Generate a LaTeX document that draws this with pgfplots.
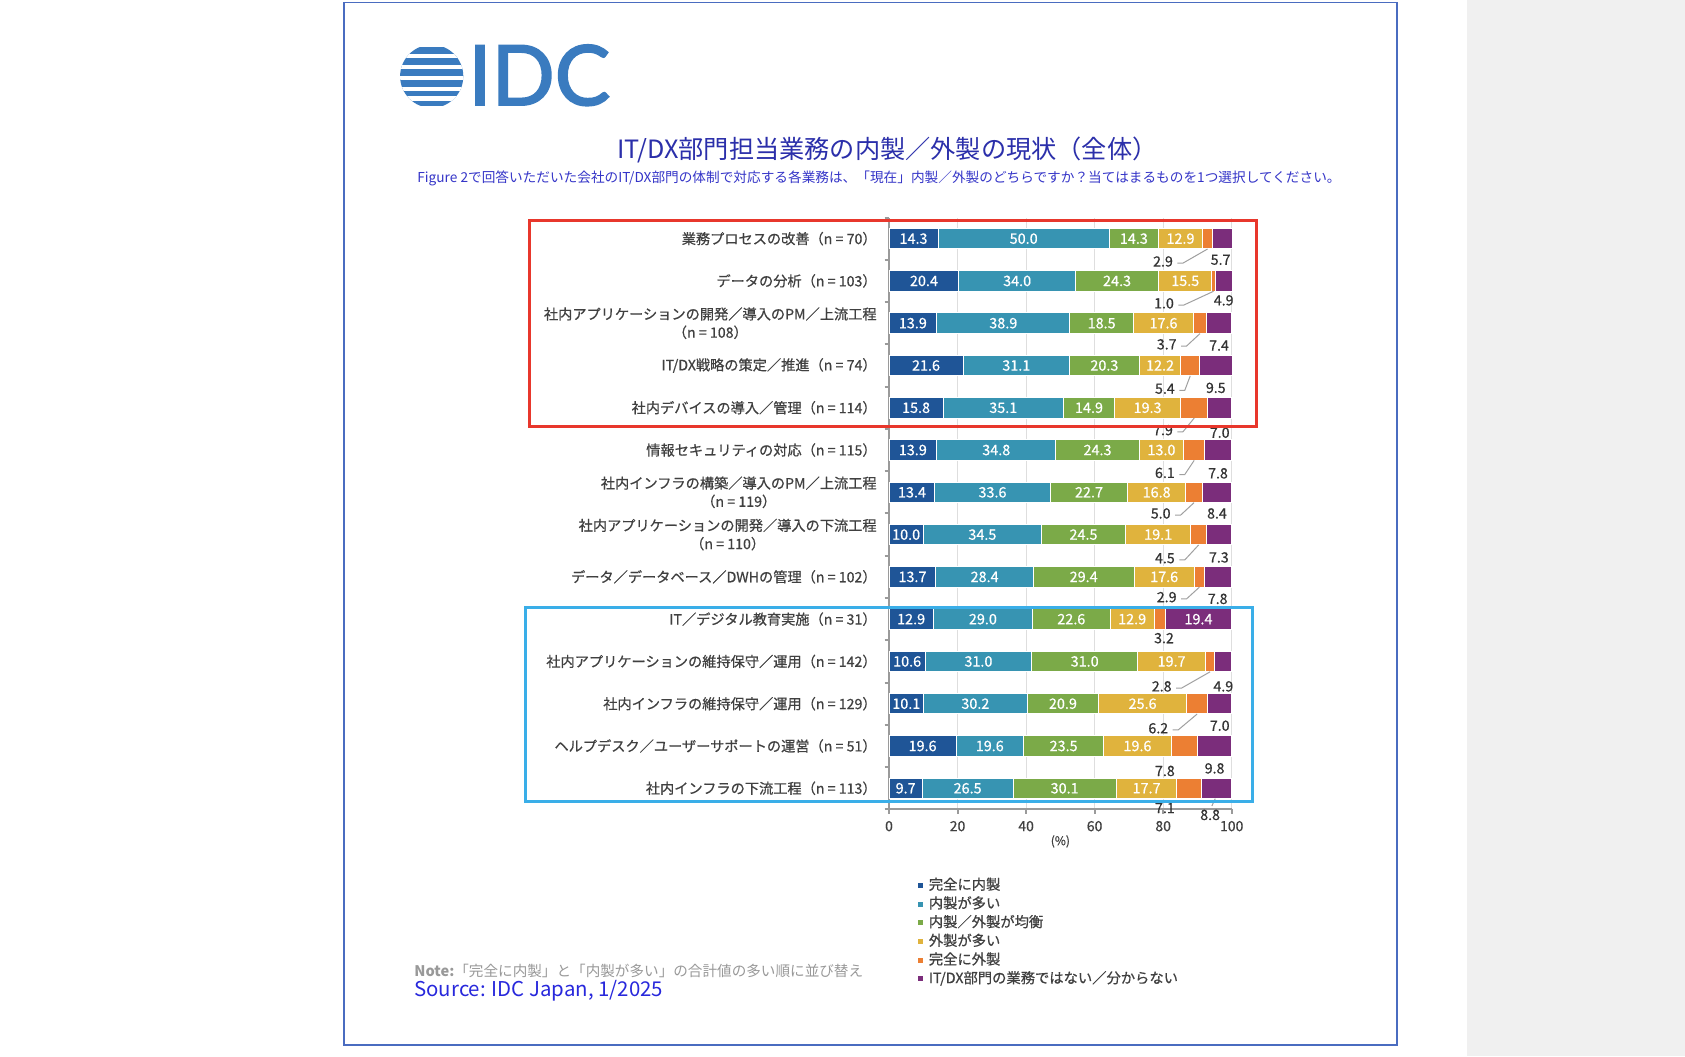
\documentclass[border=0pt]{standalone}
\usepackage{fontspec}
\setmainfont{Noto Sans CJK JP}
\newfontfamily\medfont{Noto Sans CJK JP}[FakeBold=0.6]
\newfontfamily\idcfont{Lato}[FakeBold=2.2]
\usepackage{pgfplots}
\usepackage{pgfplotstable}
\pgfplotsset{compat=1.18}

\definecolor{c1}{HTML}{1F5597}
\definecolor{c2}{HTML}{3794B2}
\definecolor{c3}{HTML}{7BAA48}
\definecolor{c4}{HTML}{E0B33D}
\definecolor{c5}{HTML}{EC7F33}
\definecolor{c6}{HTML}{7B2D7B}
\definecolor{labelgray}{HTML}{404040}
\definecolor{numgray}{HTML}{333333}
\definecolor{axgray}{HTML}{9A9A9A}
\definecolor{gridgray}{HTML}{DEDEDE}
\definecolor{leadgray}{HTML}{A0A0A0}
\definecolor{sidegray}{HTML}{F0F0F0}
\definecolor{framecol}{HTML}{4A6CC0}
\definecolor{idcblue}{HTML}{3A7BBF}
\definecolor{titleblue}{HTML}{2B2FAA}
\definecolor{subblue}{HTML}{3535C8}
\definecolor{srcblue}{HTML}{2828DC}
\definecolor{notegray}{HTML}{999999}
\definecolor{redbox}{HTML}{E8372C}
\definecolor{bluebox}{HTML}{3AAEE8}

% y: position (13 = top row); a..f: shares; ex: x of small orange label; eo/fo: downward offsets of small labels
% fdx: x shift of purple label; ld: leader to orange; fin: purple value inside bar; fl: leader to purple
\pgfplotstableread{
y  a    b    c    d    e   f    ex    eo   fo   fdx  ld fin fl
13 14.3 50.0 14.3 12.9 2.9 5.7  79.95 0.54 0.50 -0.5 1 0 0
12 20.4 34.0 24.3 15.5 1.0 4.9  80.24 0.53 0.46 0    1 0 0
11 13.9 38.9 18.5 17.6 3.7 7.4  81.03 0.50 0.53 0    1 0 0
10 21.6 31.1 20.3 12.2 5.4 9.5  80.50 0.55 0.53 0    1 0 0
9  15.8 35.1 14.9 19.3 7.9 7.0  79.95 0.53 0.59 0    1 0 0
8  13.9 34.8 24.3 13.0 6.1 7.8  80.50 0.54 0.55 0    1 0 0
7  13.4 33.6 22.7 16.8 5.0 8.4  79.28 0.50 0.50 0    1 0 0
6  10.0 34.5 24.5 19.1 4.5 7.3  80.50 0.56 0.54 0    1 0 0
5  13.7 28.4 29.4 17.6 2.9 7.8  81.03 0.48 0.52 0    1 0 0
4  12.9 29.0 22.6 12.9 3.2 19.4 80.24 0.45 0.50 0    0 1 0
3  10.6 31.0 31.0 19.7 2.8 4.9  79.57 0.59 0.59 0    1 0 0
2  10.1 30.2 20.9 25.6 6.2 7.0  78.58 0.58 0.52 0    1 0 0
1  19.6 19.6 23.5 19.6 7.8 9.8  80.50 0.59 0.53 0    0 0 0
0  9.7  26.5 30.1 17.7 7.1 8.8  80.50 0.47 0.63 -1.8 0 0 1
}\data

\tikzset{
  inlbl/.style={anchor=center, inner sep=0pt, text=white, font=\medfont\fontsize{7.2}{8}\selectfont},
  smlbl/.style={anchor=center, inner sep=0pt, text=numgray, font=\medfont\fontsize{7.1}{8}\selectfont},
  catlbl/.style={anchor=east, inner sep=0pt, xshift=-6pt, align=center, text=labelgray, font=\medfont\fontsize{7.1}{9.15}\selectfont},
  leader/.style={draw=leadgray, line width=0.5pt},
}

\pgfplotsset{
  samebox/.style={
    at={(444.5pt,-404.7pt)}, anchor=south west,
    scale only axis, width=171.35pt, height=295.95pt,
    xmin=0, xmax=100, ymin=-0.5, ymax=13.5, clip=false,
  },
}

\begin{document}
\begin{tikzpicture}
\begin{scope}[x=0.5pt,y=-0.5pt]
\useasboundingbox (0,0) rectangle (1685,1056);
\fill[white] (0,0) rectangle (1685,1056);
\fill[sidegray] (1467,0) rectangle (1685,1056);
\draw[framecol, line width=0.75pt] (344,2.5) rectangle (1397,1045);
% logo
\begin{scope}
\clip (431.7,76.3) circle (15.8pt);
\clip (390,47) rectangle (470,105.5);
\fill[idcblue] (390,40) rectangle (470,110);
\foreach \yy in {55.8,67,78,88.6,98.4}
  \fill[white] (390,\yy-2.1) rectangle (470,\yy+2.1);
\end{scope}
\node[anchor=base west, inner sep=0pt, text=idcblue, font=\idcfont\fontsize{41.5}{41.5}\selectfont] at (468,105) {IDC};
% titles
\node[text=titleblue, inner sep=0pt, font=\fontsize{12.6}{14}\selectfont] at (887.5,150) {IT/DX部門担当業務の内製／外製の現状（全体）};
\node[text=subblue, inner sep=0pt, font=\fontsize{6.83}{8}\selectfont] at (879,178.5) {Figure 2で回答いただいた会社のIT/DX部門の体制で対応する各業務は、「現在」内製／外製のどちらですか？当てはまるものを1つ選択してください。};
% note and source
\node[anchor=west, inner sep=0pt, text=notegray, font=\fontsize{7.3}{8}\selectfont] at (414,971) {\textbf{Note:}「完全に内製」と「内製が多い」の合計値の多い順に並び替え};
\node[anchor=west, inner sep=0pt, text=srcblue, font=\fontsize{10.2}{11}\selectfont] at (414,991) {Source: IDC Japan, 1/2025};
\end{scope}

\begin{axis}[
  samebox,
  xbar stacked, bar width=10.25pt,
  axis x line*=bottom, axis y line*=left,
  axis line style={draw=axgray, line width=1pt, -},
  xtick={0,20,...,100},
  ytick={-0.5,0.5,...,13.5}, yticklabels={},
  xmajorgrids, grid style={draw=gridgray, line width=0.5pt},
  tick align=outside, major tick length=2.25pt,
  tick style={draw=axgray, line width=1pt},
  /pgf/number format/assume math mode=true,
  xticklabel style={font=\medfont\fontsize{7}{8}\selectfont, text=labelgray},
  xlabel={(\%)},
  xlabel style={font=\medfont\fontsize{6}{7}\selectfont, text=labelgray, at={(rel axis cs:0.5,0)}, anchor=center, yshift=-16pt},
  legend cell align=left,
  legend image code/.code={\path[#1, draw=none] (0pt,-1.25pt) rectangle (2.5pt,1.25pt);},
  legend style={draw=none, fill=none, at={(0.083,-0.116)}, anchor=north west,
    font=\medfont\fontsize{7.15}{8}\selectfont, text=labelgray, inner sep=0pt,
    nodes={inner sep=0pt, text height=5.6pt, text depth=1.4pt},
    column sep=3pt, row sep=2.35pt},
]
\addplot[fill=c1, draw=white, line width=0.5pt] table[x=a, y=y]{\data};
\addplot[fill=c2, draw=white, line width=0.5pt] table[x=b, y=y]{\data};
\addplot[fill=c3, draw=white, line width=0.5pt] table[x=c, y=y]{\data};
\addplot[fill=c4, draw=white, line width=0.5pt] table[x=d, y=y]{\data};
\addplot[fill=c5, draw=white, line width=0.5pt] table[x=e, y=y]{\data};
\addplot[fill=c6, draw=white, line width=0.5pt] table[x=f, y=y]{\data};
\legend{完全に内製, 内製が多い, 内製／外製が均衡, 外製が多い, 完全に外製, IT/DX部門の業務ではない／分からない}
\end{axis}

\begin{axis}[samebox, hide axis]
% category labels
\node[catlbl] at (axis cs:0,13) {業務プロセスの改善（n = 70）};
\node[catlbl] at (axis cs:0,12) {データの分析（n = 103）};
\node[catlbl] at (axis cs:0,11) {社内アプリケーションの開発／導入のPM／上流工程\\（n = 108）};
\node[catlbl] at (axis cs:0,10) {IT/DX戦略の策定／推進（n = 74）};
\node[catlbl] at (axis cs:0,9) {社内デバイスの導入／管理（n = 114）};
\node[catlbl] at (axis cs:0,8) {情報セキュリティの対応（n = 115）};
\node[catlbl] at (axis cs:0,7) {社内インフラの構築／導入のPM／上流工程\\（n = 119）};
\node[catlbl] at (axis cs:0,6) {社内アプリケーションの開発／導入の下流工程\\（n = 110）};
\node[catlbl] at (axis cs:0,5) {データ／データベース／DWHの管理（n = 102）};
\node[catlbl] at (axis cs:0,4) {IT／デジタル教育実施（n = 31）};
\node[catlbl] at (axis cs:0,3) {社内アプリケーションの維持保守／運用（n = 142）};
\node[catlbl] at (axis cs:0,2) {社内インフラの維持保守／運用（n = 129）};
\node[catlbl] at (axis cs:0,1) {ヘルプデスク／ユーザーサポートの運営（n = 51）};
\node[catlbl] at (axis cs:0,0) {社内インフラの下流工程（n = 113）};

% value labels
\pgfplotsinvokeforeach{0,...,13}{%
  \pgfplotstablegetelem{#1}{y}\of\data \let\yy\pgfplotsretval
  \pgfplotstablegetelem{#1}{a}\of\data \let\va\pgfplotsretval
  \pgfplotstablegetelem{#1}{b}\of\data \let\vb\pgfplotsretval
  \pgfplotstablegetelem{#1}{c}\of\data \let\vc\pgfplotsretval
  \pgfplotstablegetelem{#1}{d}\of\data \let\vd\pgfplotsretval
  \pgfplotstablegetelem{#1}{e}\of\data \let\ve\pgfplotsretval
  \pgfplotstablegetelem{#1}{f}\of\data \let\vf\pgfplotsretval
  \pgfplotstablegetelem{#1}{ex}\of\data \let\vex\pgfplotsretval
  \pgfplotstablegetelem{#1}{eo}\of\data \let\veo\pgfplotsretval
  \pgfplotstablegetelem{#1}{fo}\of\data \let\vfo\pgfplotsretval
  \pgfplotstablegetelem{#1}{fdx}\of\data \let\vfdx\pgfplotsretval
  \pgfplotstablegetelem{#1}{ld}\of\data \let\vld\pgfplotsretval
  \pgfplotstablegetelem{#1}{fin}\of\data \let\vfin\pgfplotsretval
  \pgfplotstablegetelem{#1}{fl}\of\data \let\vfl\pgfplotsretval
  \pgfmathsetmacro\xa{\va/2}
  \pgfmathsetmacro\xb{\va+\vb/2}
  \pgfmathsetmacro\xc{\va+\vb+\vc/2}
  \pgfmathsetmacro\xd{\va+\vb+\vc+\vd/2}
  \pgfmathsetmacro\xe{\va+\vb+\vc+\vd+\ve/2}
  \pgfmathsetmacro\xf{\va+\vb+\vc+\vd+\ve+\vf/2}
  \pgfmathsetmacro\xfl{\xf+\vfdx}
  \pgfmathsetmacro\ye{\yy-\veo}
  \pgfmathsetmacro\yf{\yy-\vfo}
  \pgfmathsetmacro\ly{\yy-\veo-0.04}
  \pgfmathsetmacro\ybot{\yy-0.245}
  \pgfmathsetmacro\lxa{\vex+4.2}
  \pgfmathsetmacro\lxb{\vex+5.8}
  \edef\tmp{%
    \noexpand\node[inlbl] at (axis cs:\xa,\yy) {\va};
    \noexpand\node[inlbl] at (axis cs:\xb,\yy) {\vb};
    \noexpand\node[inlbl] at (axis cs:\xc,\yy) {\vc};
    \noexpand\node[inlbl] at (axis cs:\xd,\yy) {\vd};
    \noexpand\node[smlbl] at (axis cs:\vex,\ye) {\ve};
  }\tmp
  \ifnum\vfin=1
    \edef\tmp{\noexpand\node[inlbl] at (axis cs:\xf,\yy) {\vf};}%
  \else
    \edef\tmp{\noexpand\node[smlbl] at (axis cs:\xfl,\yf) {\vf};}%
  \fi
  \tmp
  \ifnum\vld=1
    \edef\tmp{\noexpand\draw[leader] (axis cs:\lxa,\ly) -- (axis cs:\lxb,\ly) -- (axis cs:\xe,\ybot);}%
    \tmp
  \fi
  \ifnum\vfl=1
    \pgfmathsetmacro\pxa{\xfl+0.5}
    \pgfmathsetmacro\pxb{\xfl+1.5}
    \pgfmathsetmacro\pya{\yy-0.42}
    \edef\tmp{\noexpand\draw[leader] (axis cs:\pxa,\pya) -- (axis cs:\pxb,\ybot);}%
    \tmp
  \fi
}
\end{axis}

\begin{scope}[x=0.5pt,y=-0.5pt]
\draw[redbox, line width=1.5pt] (529.5,220.7) rectangle (1256.5,426);
\draw[bluebox, line width=1.5pt] (525.5,607.3) rectangle (1252.7,801);
\end{scope}
\end{tikzpicture}
\end{document}
